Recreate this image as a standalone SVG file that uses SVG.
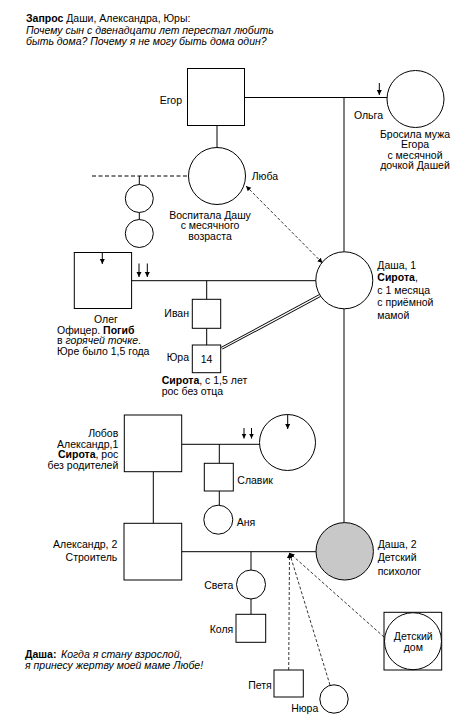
<svg xmlns="http://www.w3.org/2000/svg" width="467" height="721" viewBox="0 0 467 721">
<defs>
<marker id="ah" viewBox="0 0 10 10" refX="10" refY="5" markerWidth="5" markerHeight="6" markerUnits="userSpaceOnUse" orient="auto"><path d="M0,0 L10,5 L0,10 Z" fill="#000"/></marker>
<marker id="ahs" viewBox="0 0 10 10" refX="0" refY="5" markerWidth="5" markerHeight="6" markerUnits="userSpaceOnUse" orient="auto"><path d="M10,0 L0,5 L10,10 Z" fill="#000"/></marker>
<style>
.s{fill:#fff;stroke:#000;stroke-width:1}
.l{stroke:#000;stroke-width:1;fill:none}
.d{stroke:#000;stroke-width:0.8;fill:none;stroke-dasharray:3 2}
.a{stroke:#000;stroke-width:1;fill:none;marker-end:url(#ah)}
text{font-family:"Liberation Sans",Arial,sans-serif;font-size:10.5px;fill:#000}
.m{text-anchor:middle}
.e{text-anchor:end}
.b{font-weight:bold}
.i{font-style:italic}
</style>
</defs>
<rect width="467" height="721" fill="#fff"/>
<g id="title">
<text x="26" y="22"><tspan class="b">Запрос</tspan> Даши, Александра, Юры:</text>
<text x="26" y="33.5" class="i">Почему сын с двенадцати лет перестал любить</text>
<text x="26" y="44.5" class="i">быть дома? Почему я не могу быть дома один?</text>
</g>
<g id="connectors">
<line class="l" x1="244.5" y1="97.5" x2="387" y2="97.5"/>
<line class="l" x1="344" y1="97.5" x2="344" y2="252"/>
<line class="l" x1="344" y1="308.8" x2="344" y2="522.7"/>
<line class="l" x1="217" y1="125.5" x2="217" y2="147.5"/>
<line class="l" x1="92" y1="176" x2="188.5" y2="176" stroke-dasharray="4 2.5"/>
<line class="l" x1="139.3" y1="176" x2="139.3" y2="184.5"/>
<line class="l" x1="139.3" y1="212.5" x2="139.3" y2="219.5"/>
<line class="l" x1="131.7" y1="280.7" x2="316" y2="280.7"/>
<line class="l" x1="206.7" y1="280.7" x2="206.7" y2="299.3"/>
<line class="l" x1="206.7" y1="328.3" x2="206.7" y2="345"/>
<line x1="221.7" y1="348.3" x2="320.2" y2="295.4" stroke="#000" stroke-width="3"/>
<line x1="221.7" y1="348.3" x2="320.2" y2="295.4" stroke="#fff" stroke-width="1.2"/>
<line class="d" x1="246" y1="186" x2="322.5" y2="263" marker-start="url(#ahs)" marker-end="url(#ah)"/>
<line class="l" x1="181.7" y1="444.3" x2="259.5" y2="444.3"/>
<line class="l" x1="219.3" y1="444.3" x2="219.3" y2="463.3"/>
<line class="l" x1="219.3" y1="491" x2="219.3" y2="505.2"/>
<line class="l" x1="153.3" y1="471.7" x2="153.3" y2="523.3"/>
<line class="l" x1="181.7" y1="551.7" x2="316" y2="551.7"/>
<line class="l" x1="251" y1="551.7" x2="251" y2="570"/>
<line class="l" x1="251" y1="599" x2="251" y2="614.3"/>
<line class="d" x1="288.7" y1="670" x2="289.5" y2="553" marker-end="url(#ah)"/>
<line class="d" x1="330" y1="685" x2="289.5" y2="553" marker-end="url(#ah)"/>
<line class="d" x1="384" y1="637" x2="289.5" y2="553" marker-end="url(#ah)"/>
<line class="a" x1="379.3" y1="83" x2="379.3" y2="95"/>
<line class="a" x1="139" y1="263.5" x2="139" y2="277"/>
<line class="a" x1="147.3" y1="263.5" x2="147.3" y2="277"/>
<line class="a" x1="244" y1="428" x2="244" y2="438.5"/>
<line class="a" x1="251.5" y1="428" x2="251.5" y2="438.5"/>
</g>
<g id="egor">
<rect class="s" x="187.5" y="68.5" width="57" height="57"/>
<text x="182" y="103.5" class="e">Егор</text>
</g>
<g id="olga">
<circle class="s" cx="415.5" cy="99" r="28.5"/>
<text x="383" y="118.5" class="e">Ольга</text>
<text x="415" y="137.5" class="m">Бросила мужа</text>
<text x="415" y="148" class="m">Егора</text>
<text x="415" y="158.5" class="m">с месячной</text>
<text x="415" y="169" class="m">дочкой Дашей</text>
</g>
<g id="lyuba">
<circle class="s" cx="217" cy="176" r="28.5"/>
<text x="251.7" y="179.5">Люба</text>
<text x="210" y="218.5" class="m">Воспитала Дашу</text>
<text x="210" y="229" class="m">с месячного</text>
<text x="210" y="239.5" class="m">возраста</text>
</g>
<g id="sister1"><circle class="s" cx="139.3" cy="198.5" r="14"/></g>
<g id="sister2"><circle class="s" cx="139.3" cy="233.5" r="14"/></g>
<g id="oleg">
<rect class="s" x="74.3" y="252.5" width="57.3" height="56"/>
<line class="a" x1="102.3" y1="252.5" x2="102.3" y2="264"/>
<text x="106" y="322.5" class="m">Олег</text>
<text x="57" y="333.5">Офицер. <tspan class="b">Погиб</tspan></text>
<text x="57" y="344">в <tspan class="i">горячей точке</tspan>.</text>
<text x="57" y="354.5">Юре было 1,5 года</text>
</g>
<g id="ivan">
<rect class="s" x="192.3" y="299.3" width="28.4" height="29"/>
<text x="189" y="316.5" class="e">Иван</text>
</g>
<g id="yura">
<rect class="s" x="192.3" y="345" width="28.4" height="27.7" stroke-width="2"/>
<text x="206.5" y="362.5" class="m">14</text>
<text x="189" y="360.5" class="e">Юра</text>
<text x="161.7" y="384"><tspan class="b">Сирота</tspan>, с 1,5 лет</text>
<text x="161.7" y="394.5">рос без отца</text>
</g>
<g id="dasha1">
<circle class="s" cx="344.3" cy="280.3" r="28.5"/>
<text x="377.3" y="268.5">Даша, 1</text>
<text x="377.3" y="281" class="b">Сирота<tspan font-weight="normal">,</tspan></text>
<text x="377.3" y="293.5">с 1 месяца</text>
<text x="377.3" y="306">с приёмной</text>
<text x="377.3" y="318.5">мамой</text>
</g>
<g id="lobov">
<rect class="s" x="124.3" y="415" width="57.4" height="56.7"/>
<text x="118.3" y="437" class="e">Лобов</text>
<text x="118.3" y="447.5" class="e">Александр,1</text>
<text x="118.3" y="458" class="e"><tspan class="b">Сирота</tspan>, рос</text>
<text x="118.3" y="468.5" class="e">без родителей</text>
</g>
<g id="lobov-wife">
<circle class="s" cx="287.5" cy="442.5" r="28"/>
<line class="a" x1="287.7" y1="414.5" x2="287.7" y2="429"/>
</g>
<g id="slavik">
<rect class="s" x="204.3" y="463.3" width="29" height="27.7"/>
<text x="237.3" y="484">Славик</text>
</g>
<g id="anya">
<circle class="s" cx="218.3" cy="519.7" r="14.5"/>
<text x="236.7" y="526">Аня</text>
</g>
<g id="alexander2">
<rect class="s" x="124" y="523.3" width="57.7" height="56.7"/>
<text x="117.3" y="548" class="e">Александр, 2</text>
<text x="117.3" y="560.5" class="e">Строитель</text>
</g>
<g id="dasha2">
<circle cx="344.7" cy="551.3" r="28.7" fill="#c8c8c8" stroke="#000" stroke-width="1"/>
<text x="377.7" y="548">Даша, 2</text>
<text x="377.7" y="561">Детский</text>
<text x="377.7" y="574.5">психолог</text>
</g>
<g id="sveta">
<circle class="s" cx="251" cy="584.5" r="14.5"/>
<text x="233.3" y="589" class="e">Света</text>
</g>
<g id="kolya">
<rect class="s" x="236" y="614.3" width="29.7" height="28"/>
<text x="233.3" y="633" class="e">Коля</text>
</g>
<g id="orphanage">
<rect class="s" x="384" y="612.3" width="57.7" height="57.7"/>
<circle class="s" cx="413" cy="641.2" r="28.5"/>
<text x="413.3" y="640" class="m">Детский</text>
<text x="413.3" y="650.5" class="m">дом</text>
</g>
<g id="quote">
<text x="25" y="657.5" class="b">Даша:</text>
<text x="61" y="657.5" class="i">Когда я стану взрослой,</text>
<text x="25" y="669" class="i">я принесу жертву моей маме Любе!</text>
</g>
<g id="petya">
<rect class="s" x="274" y="670" width="29.3" height="27"/>
<text x="271.7" y="688.5" class="e">Петя</text>
</g>
<g id="nyura">
<circle class="s" cx="334" cy="699" r="14.2"/>
<text x="318.3" y="712" class="e">Нюра</text>
</g>
</svg>
